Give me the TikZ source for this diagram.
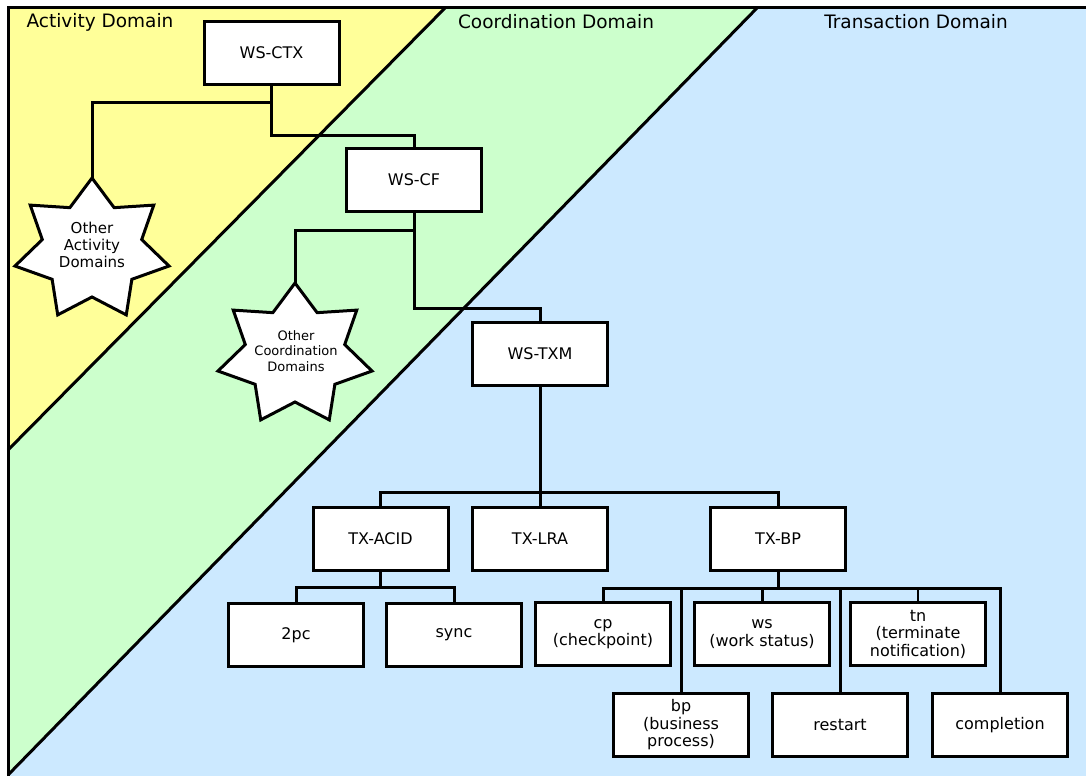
\documentclass[tikz,border=0pt]{standalone}
\usepackage{fontspec}
\setmainfont{DejaVu Sans}
\definecolor{yellowR}{HTML}{FFFF99}
\definecolor{greenR}{HTML}{CCFFCC}
\definecolor{blueR}{HTML}{CCE9FF}
\begin{document}
\begin{tikzpicture}[x=1pt,y=-1pt,
  box/.style={draw=black, line width=3pt, fill=white, minimum width=135pt, minimum height=63pt,
              inner sep=0pt, align=center, font=\fontsize{16}{17.5}\selectfont},
  conn/.style={line width=3pt},
  thinconn/.style={line width=1.3pt},
  border/.style={line width=3pt},
  starshape/.style={draw=black, line width=3pt, fill=white, line join=miter},
  hdr/.style={font=\fontsize{18.5}{20}\selectfont},
  startextA/.style={align=center, inner sep=0pt, font=\fontsize{15}{17}\selectfont},
  startextB/.style={align=center, inner sep=0pt, font=\fontsize{13}{15.5}\selectfont}]
\useasboundingbox (0,0) rectangle (1086,776);
% regions
\fill[white] (0,0) rectangle (1086,776);
\fill[blueR] (8,8) rectangle (1086,776);
\fill[greenR] (445,8) -- (757,8) -- (8,775) -- (8,450) -- cycle;
\fill[yellowR] (8,8) -- (445,8) -- (8,450) -- cycle;
\draw[border] (445,8) -- (8,450);
\draw[border] (757,8) -- (8,775);
\draw[border] (8,776) -- (8,8) -- (1086,8);
% headers
\node[hdr] (hA) at (100,22) {Activity Domain};
\node[hdr] (hC) at (556,22) {Coordination Domain};
\node[hdr] (hT) at (916,22) {Transaction Domain};
% stars
\coordinate (s1c) at (92,250);
\coordinate (s2c) at (295,355);
\foreach \c in {s1c,s2c}{
  \draw[starshape] ([shift={(\c)}]0,-72)
    \foreach \k [evaluate=\k as \px using {ifthenelse(mod(\k,2)==1,51,79)*cos(270+\k*180/7)},
                 evaluate=\k as \py using {ifthenelse(mod(\k,2)==1,47,72)*sin(270+\k*180/7)}] in {1,...,13}
      { -- ([shift={(\c)}]\px,\py) } -- cycle;
}
\node[startextA] (s1) at (92,245) {Other\\Activity\\Domains};
\node[startextB] (s2) at (296,351) {Other\\Coordination\\Domains};
\coordinate (s1top) at (92,178);
\coordinate (s2top) at (295,283);
% boxes
\node[box] (ctx)  at (271.5,53) {WS-CTX};
\node[box] (cf)   at (414,180) {WS-CF};
\node[box] (txm)  at (540,354) {WS-TXM};
\node[box] (acid) at (380.5,539) {TX-ACID};
\node[box] (lra)  at (540,539) {TX-LRA};
\node[box] (txbp) at (778,539) {TX-BP};
\node[box] (pc)   at (296,635) {2pc};
\node[box] (sync) at (454,635) {sync};
\node[box] (cp)   at (603,634) {cp\\(checkpoint)};
\node[box] (ws)   at (762,634) {ws\\(work status)};
\node[box] (tn)   at (918,634) {tn\\(terminate\\notification)};
\node[box] (bp)   at (681,725) {bp\\(business\\process)};
\node[box] (rs)   at (840,725) {restart};
\node[box] (cm)   at (1000,725) {completion};
% connectors
\draw[conn] (ctx.south) -- ++(0,16) -| (s1top);
\draw[conn] (ctx.south) -- ++(0,49) -| (cf.north);
\draw[conn] (cf.south) -- ++(0,17) -| (s2top);
\draw[conn] (cf.south) -- ++(0,95) -| (txm.north);
\draw[conn] (txm.south) -- ++(0,105) -| (acid.north);
\draw[conn] (txm.south) -- (lra.north);
\draw[conn] (txm.south) -- ++(0,105) -| (txbp.north);
\draw[conn] (acid.south) -- ++(0,15) -| (pc.north);
\draw[conn] (acid.south) -- ++(0,15) -| (sync.north);
\draw[conn] (txbp.south) -- ++(0,16) -| (cp.north);
\draw[conn] (txbp.south) -- ++(0,16) -| (bp.north);
\draw[conn] (txbp.south) -- ++(0,16) -| (ws.north);
\draw[conn] (txbp.south) -- ++(0,16) -| (rs.north);
\draw[thinconn] (txbp.south) ++(0,16) -| (tn.north);
\draw[conn] (txbp.south) -- ++(0,16) -| (cm.north);
\end{tikzpicture}
\end{document}
